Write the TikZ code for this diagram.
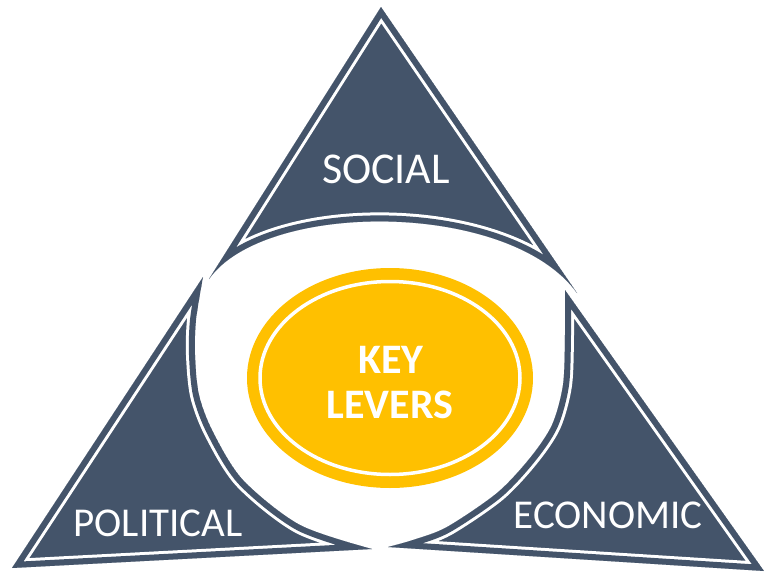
\documentclass[tikz,border=0pt]{standalone}
\usepackage{fontspec}
\setmainfont{Carlito}
\definecolor{slate}{HTML}{44546A}
\definecolor{gold}{HTML}{FFC000}
\tikzset{
  piecetext/.style={text=white, inner sep=0pt, anchor=base},
}
\def\toppiece{(381,7) -- (209,279) .. controls (265,200) and (510,200) .. (577,293) -- cycle}
\def\leftpiece{(12,568) -- (203,277) -- plot[smooth] coordinates {(203,277) (196,320) (195,355) (199,395) (213,432) (243,480) (300,525) (372,549)} -- cycle}
\def\rightpiece{(764,571) -- (388,547) -- plot[smooth] coordinates {(388,547) (413,540) (447,527) (497,493) (530,458) (552,425) (563,385) (565,335) (565,290)} -- cycle}
\newcommand{\drawpiece}[1]{%
  \begin{scope}
    \clip #1;
    \fill[slate] #1;
    \draw[white, line width=18pt] #1;
    \draw[slate, line width=12pt] #1;
  \end{scope}}
\begin{document}
\begin{tikzpicture}[x=1pt,y=-1pt]
\useasboundingbox (0,0) rectangle (764,573);
\drawpiece{\toppiece}
\drawpiece{\leftpiece}
\drawpiece{\rightpiece}
\fill[gold] (390,378) ellipse [x radius=143, y radius=110];
\draw[white, line width=3.5pt] (390,378) ellipse [x radius=130, y radius=96.5];
\node[piecetext, font=\fontsize{44}{44}\selectfont] (social) at (386,183) {SOCIAL};
\node[piecetext, font=\fontsize{41}{41}\selectfont] (political) at (158,536) {POLITICAL};
\node[piecetext, font=\fontsize{41}{41}\selectfont] (economic) at (608,528) {ECONOMIC};
\node[piecetext, font=\bfseries\fontsize{42}{42}\selectfont] (key) at (391,373) {KEY};
\node[piecetext, font=\bfseries\fontsize{42}{42}\selectfont] (levers) at (390,418) {LEVERS};
\end{tikzpicture}
\end{document}
